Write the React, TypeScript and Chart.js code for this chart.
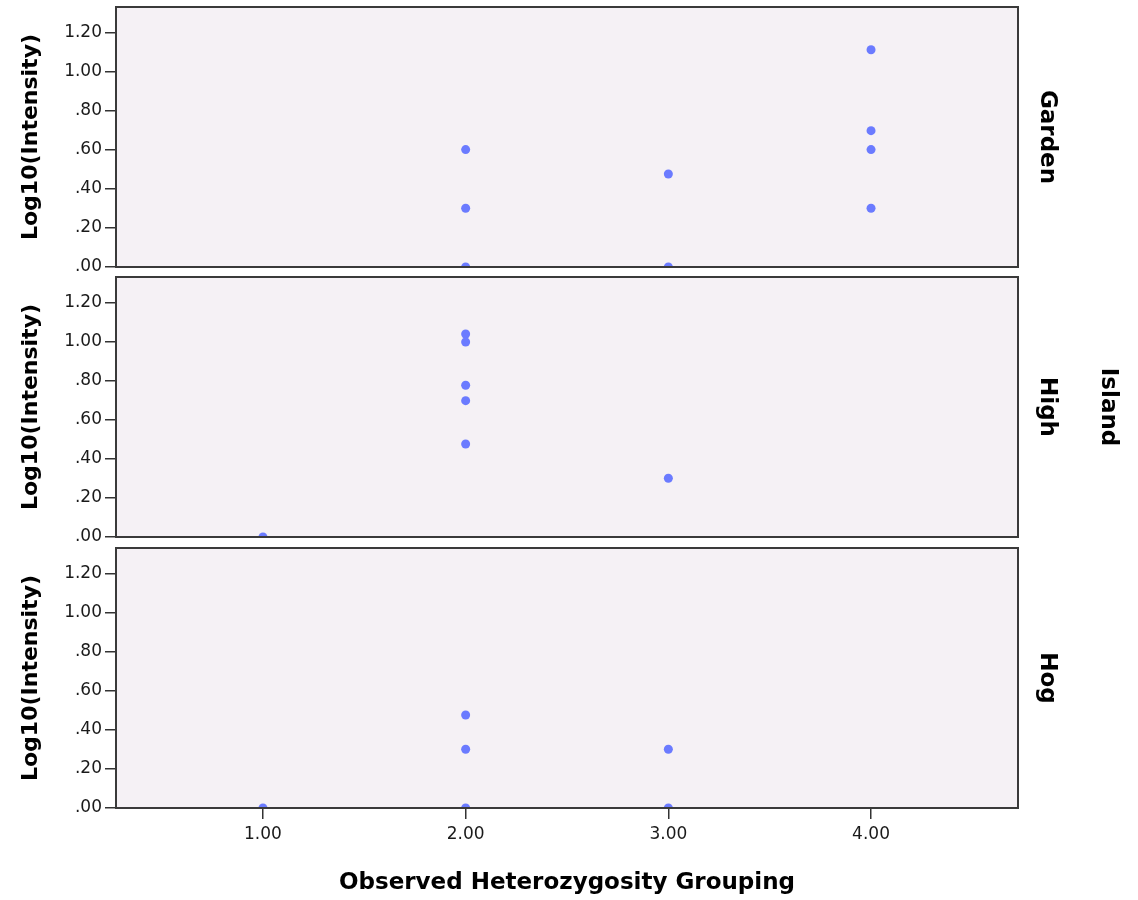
import React, { useEffect, useRef } from 'react';
import { Chart, registerables } from 'chart.js';

Chart.register(...registerables);

// ---- Data ----
const X_TICKS = [1, 2, 3, 4];
const X_TICK_LABELS = ['1.00', '2.00', '3.00', '4.00'];
const Y_TICKS = [0, 0.2, 0.4, 0.6, 0.8, 1.0, 1.2];
const Y_TICK_LABELS = ['.00', '.20', '.40', '.60', '.80', '1.00', '1.20'];
const X_MIN = 0.275;
const X_MAX = 4.725;
const Y_MIN = 0;
const Y_MAX = 1.333;

const GARDEN_X = [2, 2, 2, 3, 3, 4, 4, 4, 4];
const GARDEN_Y = [0.602, 0.301, 0, 0.477, 0, 1.114, 0.699, 0.602, 0.301];
const HIGH_X = [1, 2, 2, 2, 2, 2, 3];
const HIGH_Y = [0, 1.041, 1.0, 0.778, 0.699, 0.477, 0.301];
const HOG_X = [1, 2, 2, 2, 3, 3];
const HOG_Y = [0, 0.477, 0.301, 0, 0.301, 0];

const PANEL_LABELS = ['Garden', 'High', 'Hog'];
const GROUP_LABEL = 'Island';
const X_TITLE = 'Observed Heterozygosity Grouping';
const Y_TITLE = 'Log10(Intensity)';

// ---- Styles ----
const FONT = 'DejaVu Sans';
const POINT_COLOR = '#6b7bff';
const PLOT_BG = '#f5f1f5';
const BORDER = '#3a3a3a';
const TEXT = '#1a1a1a';

type PanelProps = {
  xs: number[];
  ys: number[];
  label: string;
  group?: string;
  top: number;
  height: number;
  padBottom: number;
  showX: boolean;
};

function Panel({ xs, ys, label, group, top, height, padBottom, showX }: PanelProps) {
  const ref = useRef<HTMLCanvasElement>(null);
  useEffect(() => {
    const data = xs.map((x, i) => ({ x, y: ys[i] }));
    const panelPlugin = {
      id: 'panelDeco',
      beforeDraw(chart: any) {
        const { ctx, chartArea: a } = chart;
        ctx.save();
        ctx.fillStyle = PLOT_BG;
        ctx.fillRect(a.left, a.top, a.right - a.left, a.bottom - a.top);
        ctx.restore();
      },
      afterDraw(chart: any) {
        const { ctx, chartArea: a } = chart;
        ctx.save();
        ctx.strokeStyle = BORDER;
        ctx.lineWidth = 2;
        ctx.strokeRect(a.left, a.top, a.right - a.left, a.bottom - a.top);
        ctx.fillStyle = '#000';
        ctx.font = `bold 23px "${FONT}"`;
        ctx.textAlign = 'center';
        ctx.textBaseline = 'middle';
        const cy = (a.top + a.bottom) / 2;
        const drawRot = (t: string, x: number) => {
          ctx.save();
          ctx.translate(x, cy);
          ctx.rotate(Math.PI / 2);
          ctx.fillText(t, 0, 0);
          ctx.restore();
        };
        drawRot(label, a.right + 29);
        if (group) drawRot(group, a.right + 90);
        ctx.restore();
      },
    };
    const chart = new Chart(ref.current as HTMLCanvasElement, {
      type: 'scatter',
      data: {
        datasets: [
          {
            data,
            backgroundColor: POINT_COLOR,
            borderWidth: 0,
            pointRadius: 4.5,
            pointHoverRadius: 4.5,
          },
        ],
      },
      options: {
        animation: false,
        responsive: false,
        events: [],
        layout: { padding: { top: 7, bottom: padBottom, left: 0, right: 120 } },
        plugins: { legend: { display: false }, tooltip: { enabled: false } },
        scales: {
          x: {
            type: 'linear',
            min: X_MIN,
            max: X_MAX,
            display: showX,
            afterBuildTicks: (s: any) => {
              s.ticks = X_TICKS.map((v) => ({ value: v }));
            },
            afterFit: (s: any) => {
              if (showX) s.height = 92;
              s.paddingLeft = 0;
              s.paddingRight = 0;
            },
            ticks: {
              callback: (_v: any, i: number) => X_TICK_LABELS[i],
              font: { family: FONT, size: 17 },
              color: TEXT,
              padding: 5,
              maxRotation: 0,
              autoSkip: false,
            },
            grid: { drawOnChartArea: false, drawTicks: true, tickLength: 11, color: '#333', lineWidth: 1.5 },
            border: { display: false },
            title: {
              display: true,
              text: X_TITLE,
              color: '#000',
              font: { family: FONT, size: 23, weight: 'bold' },
              padding: { top: 0, bottom: 3 },
            },
          },
          y: {
            type: 'linear',
            min: Y_MIN,
            max: Y_MAX,
            afterBuildTicks: (s: any) => {
              s.ticks = Y_TICKS.map((v) => ({ value: v }));
            },
            afterFit: (s: any) => {
              s.width = 116;
              s.paddingTop = 0;
              s.paddingBottom = 0;
            },
            ticks: {
              callback: (_v: any, i: number) => Y_TICK_LABELS[i],
              font: { family: FONT, size: 17 },
              color: TEXT,
              padding: 3,
              autoSkip: false,
            },
            grid: { drawOnChartArea: false, drawTicks: true, tickLength: 11, color: '#333', lineWidth: 1.5 },
            border: { display: false },
            title: {
              display: true,
              text: Y_TITLE,
              color: '#000',
              font: { family: FONT, size: 22, weight: 'bold' },
              padding: { top: 18, bottom: 0 },
            },
          },
        },
      } as any,
      plugins: [panelPlugin],
    });
    return () => chart.destroy();
  }, []);
  return (
    <canvas
      ref={ref}
      width={1138}
      height={height}
      style={{ position: 'absolute', left: 0, top, display: 'block' }}
    />
  );
}

export default function App() {
  return (
    <div style={{ position: 'absolute', left: 0, top: 0, width: 1138, height: 900, background: '#fff' }}>
      <Panel xs={GARDEN_X} ys={GARDEN_Y} label={PANEL_LABELS[0]} top={0} height={280} padBottom={13} showX={false} />
      <Panel xs={HIGH_X} ys={HIGH_Y} label={PANEL_LABELS[1]} group={GROUP_LABEL} top={270} height={280} padBottom={13} showX={false} />
      <Panel xs={HOG_X} ys={HOG_Y} label={PANEL_LABELS[2]} top={541} height={359} padBottom={0} showX={true} />
    </div>
  );
}
